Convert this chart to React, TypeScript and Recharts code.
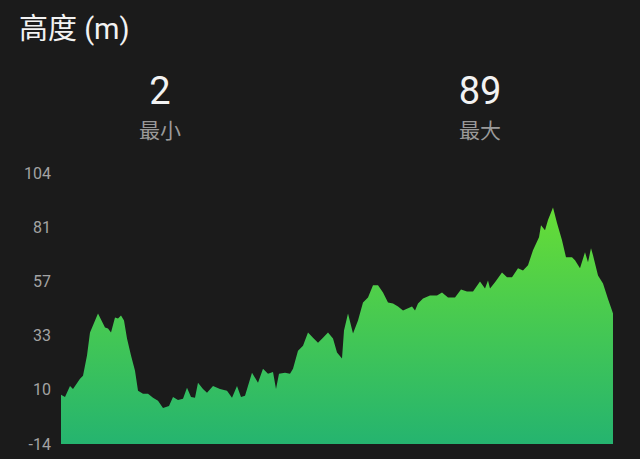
import { AreaChart, Area, XAxis, YAxis } from 'recharts'

// distance along the track (m) and elevation (m)
const distance = [
  0, 40, 90, 120, 190, 220, 260, 290, 370, 440, 470, 500, 540, 570, 600, 630, 660,
  700, 740, 770, 820, 870, 920, 970, 1020, 1080, 1120, 1170, 1220, 1260, 1300, 1340,
  1370, 1420, 1460, 1520, 1590, 1660, 1710, 1760, 1800, 1840, 1910, 1970, 2020, 2070,
  2120, 2150, 2180, 2240, 2290, 2320, 2370, 2420, 2470, 2520, 2570, 2620, 2670, 2720,
  2760, 2810, 2830, 2870, 2920, 2970, 3020, 3070, 3120, 3170, 3220, 3270, 3320, 3370,
  3420, 3510, 3540, 3570, 3620, 3690, 3760, 3810, 3870, 3940, 4000, 4060, 4120, 4190,
  4240, 4270, 4290, 4340, 4410, 4460, 4510, 4570, 4620, 4670, 4720, 4780, 4800, 4840,
  4870, 4920, 4960, 5010, 5050, 5110, 5140, 5190, 5240, 5270, 5300, 5320, 5370, 5420,
  5470, 5510, 5520,
]
const elevation = [
  7.4, 6.5, 11.3, 10.0, 14.4, 15.7, 24.5, 34.5, 42.8, 36.7, 36.3, 34.5, 41.1, 40.6,
  41.9, 39.8, 31.9, 24.5, 17.9, 9.2, 7.9, 7.9, 6.1, 4.8, 1.7, 2.6, 6.5, 5.2, 5.7, 10.5,
  6.5, 6.1, 12.7, 10.0, 8.3, 11.3, 10.0, 9.2, 6.1, 11.3, 6.5, 7.0, 17.0, 12.7, 18.8,
  16.6, 17.3, 10.0, 16.6, 17.0, 16.6, 18.8, 26.6, 28.8, 34.5, 32.3, 30.1, 32.3, 34.5,
  31.9, 25.8, 23.2, 35.4, 42.8, 34.1, 39.8, 47.6, 49.8, 55.1, 55.1, 52.0, 47.6, 47.2,
  45.9, 44.1, 45.9, 44.1, 47.2, 49.4, 50.7, 50.7, 52.0, 49.8, 49.8, 53.3, 52.4, 52.4,
  56.8, 53.7, 57.2, 53.7, 56.4, 60.7, 58.6, 58.6, 62.5, 61.6, 63.8, 70.4, 76.0, 81.3,
  79.1, 83.5, 89, 82.2, 74.7, 67.3, 67.3, 66.0, 62.5, 69.5, 65.1, 71.2, 68.2, 59.4,
  55.9, 49.1, 44.1, 42.8,
]
const yTicks = [-14, 9.6, 33.2, 56.8, 80.4, 104]
const yTickLabels = ['-14', '10', '33', '57', '81', '104']
const minElevation = 2
const maxElevation = 89

const data = distance.map((d, i) => ({ d, h: elevation[i] }))

const FONT = "Roboto, 'Noto Sans CJK SC', sans-serif"

export default function App() {
  return (
    <div
      style={{
        position: 'absolute', left: 0, top: 0, width: 640, height: 459,
        background: '#1b1b1b', fontFamily: FONT, overflow: 'hidden',
      }}
    >
      <div style={{ position: 'absolute', left: 19, top: 5, fontSize: 29, color: '#f2f2f2' }}>
        高度 (m)
      </div>
      {[
        { value: minElevation, label: '最小', cx: 160 },
        { value: maxElevation, label: '最大', cx: 480 },
      ].map((s) => (
        <div
          key={s.label}
          style={{ position: 'absolute', left: s.cx - 80, top: 68, width: 160, textAlign: 'center' }}
        >
          <div style={{ fontSize: 38, color: '#f2f2f2', lineHeight: '46px' }}>{s.value}</div>
          <div style={{ fontSize: 21, color: '#9a9a9a', lineHeight: '26px', marginTop: 4 }}>{s.label}</div>
        </div>
      ))}
      <div style={{ position: 'absolute', left: 0, top: 0 }}>
        <AreaChart
          width={640}
          height={459}
          data={data}
          margin={{ top: 173, right: 27, bottom: 15, left: 0 }}
        >
          <defs>
            <linearGradient id="elevFill" x1="0" y1="0" x2="0" y2="1">
              <stop offset="0%" stopColor="#66dd36" />
              <stop offset="100%" stopColor="#25b46f" />
            </linearGradient>
          </defs>
          <XAxis dataKey="d" type="number" domain={[0, 5520]} hide />
          <YAxis
            domain={[-14, 104]}
            ticks={yTicks}
            tickFormatter={(_v, i) => yTickLabels[i]}
            width={61}
            axisLine={false}
            tickLine={false}
            tickSize={0}
            tickMargin={10}
            tick={{ fill: '#a3a3a3', fontSize: 16, fontFamily: FONT }}
            interval={0}
          />
          <Area
            type="linear"
            dataKey="h"
            baseValue={-14}
            stroke="none"
            fill="url(#elevFill)"
            fillOpacity={1}
            isAnimationActive={false}
          />
        </AreaChart>
      </div>
    </div>
  )
}
